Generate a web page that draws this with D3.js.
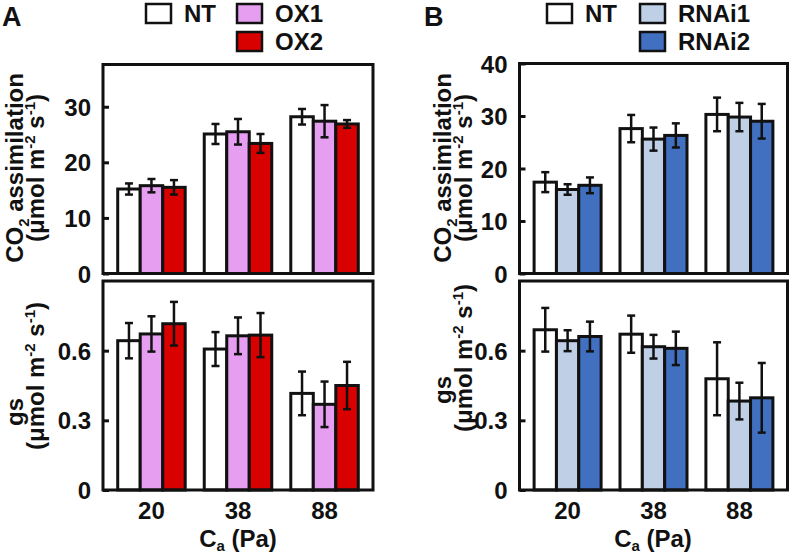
<!DOCTYPE html>
<html>
<head>
<meta charset="utf-8">
<script src="https://cdn.jsdelivr.net/npm/d3@7"></script>
<style>
  html, body { margin: 0; padding: 0; background: #fff; }
  svg text { font-family: "Liberation Sans", Arial, sans-serif; font-weight: bold; fill: #111; }
</style>
</head>
<body>
<svg id="chart" width="793" height="554"></svg>
<script>
// ---------- DATA ----------
const categories = ["20", "38", "88"];
const seriesA = ["NT", "OX1", "OX2"];
const seriesB = ["NT", "RNAi1", "RNAi2"];

// Panel A: CO2 assimilation (µmol m-2 s-1)
const A_assim_NT = [15.2, 25.1, 28.2];
const A_assim_NT_err = [1.0, 1.8, 1.4];
const A_assim_OX1 = [15.8, 25.5, 27.4];
const A_assim_OX1_err = [1.2, 2.3, 2.9];
const A_assim_OX2 = [15.5, 23.4, 26.9];
const A_assim_OX2_err = [1.3, 1.7, 0.7];
// Panel A: gs
const A_gs_NT = [0.643, 0.607, 0.416];
const A_gs_NT_err = [0.076, 0.073, 0.094];
const A_gs_OX1 = [0.672, 0.664, 0.369];
const A_gs_OX1_err = [0.076, 0.079, 0.098];
const A_gs_OX2 = [0.716, 0.667, 0.450];
const A_gs_OX2_err = [0.094, 0.095, 0.102];

// Panel B: CO2 assimilation
const B_assim_NT = [17.4, 27.6, 30.3];
const B_assim_NT_err = [1.9, 2.6, 3.2];
const B_assim_RNAi1 = [16.0, 25.6, 29.8];
const B_assim_RNAi1_err = [1.0, 2.2, 2.7];
const B_assim_RNAi2 = [16.8, 26.3, 29.0];
const B_assim_RNAi2_err = [1.5, 2.3, 3.3];
// Panel B: gs
const B_gs_NT = [0.690, 0.671, 0.479];
const B_gs_NT_err = [0.094, 0.080, 0.157];
const B_gs_RNAi1 = [0.643, 0.617, 0.383];
const B_gs_RNAi1_err = [0.045, 0.051, 0.079];
const B_gs_RNAi2 = [0.661, 0.610, 0.397];
const B_gs_RNAi2_err = [0.064, 0.072, 0.150];

const ticksAssimA = [0, 10, 20, 30];
const ticksAssimB = [0, 10, 20, 30, 40];
const ticksGs = [0, 0.3, 0.6];

// ---------- STYLE ----------
const colorsA = ["#ffffff", "#e59ef0", "#d90000"];
const colorsB = ["#ffffff", "#bfcfe6", "#4270c0"];

const svg = d3.select("#chart");
const LW = 3;

function panel(opt) {
  const g = svg.append("g");
  const x0 = d3.scaleBand().domain(categories).range([opt.left, opt.right])
    .paddingInner(0.22).paddingOuter(0.17);
  const x1 = d3.scaleBand().domain(opt.series).range([0, x0.bandwidth()]);
  const y = d3.scaleLinear().domain(opt.domain).range([opt.bottom, opt.top]);
  const color = d3.scaleOrdinal().domain(opt.series).range(opt.colors);

  const rows = [];
  opt.series.forEach((s, si) => {
    categories.forEach((c, ci) => {
      rows.push({ s, c, v: opt.values[si][ci], e: opt.errors[si][ci] });
    });
  });

  g.selectAll("rect.bar").data(rows).join("rect")
    .attr("class", "bar")
    .attr("x", d => x0(d.c) + x1(d.s))
    .attr("y", d => y(d.v))
    .attr("width", x1.bandwidth())
    .attr("height", d => y(0) - y(d.v))
    .attr("fill", d => color(d.s))
    .attr("stroke", "#111")
    .attr("stroke-width", LW);

  const eb = g.selectAll("g.err").data(rows).join("g").attr("class", "err")
    .attr("stroke", "#111").attr("stroke-width", 2.5);
  const cx = d => x0(d.c) + x1(d.s) + x1.bandwidth() / 2;
  eb.append("line").attr("x1", cx).attr("x2", cx)
    .attr("y1", d => y(d.v - d.e)).attr("y2", d => y(d.v + d.e));
  eb.append("line").attr("x1", d => cx(d) - 4).attr("x2", d => cx(d) + 4)
    .attr("y1", d => y(d.v + d.e)).attr("y2", d => y(d.v + d.e));
  eb.append("line").attr("x1", d => cx(d) - 4).attr("x2", d => cx(d) + 4)
    .attr("y1", d => y(d.v - d.e)).attr("y2", d => y(d.v - d.e));

  // frame
  g.append("rect")
    .attr("x", opt.left).attr("y", opt.top)
    .attr("width", opt.right - opt.left).attr("height", opt.bottom - opt.top)
    .attr("fill", "none").attr("stroke", "#111").attr("stroke-width", LW);

  // y axis (inward ticks)
  const ax = g.append("g").attr("transform", `translate(${opt.left},0)`)
    .call(d3.axisLeft(y).tickValues(opt.ticks).tickSize(-6).tickPadding(12)
      .tickFormat(d => d === 0 ? "0" : (opt.fmt ? d3.format(".1f")(d) : d)));
  ax.select(".domain").remove();
  ax.selectAll(".tick line").attr("stroke", "#111").attr("stroke-width", LW);
  ax.selectAll(".tick text").attr("font-size", 24).attr("dy", "0.36em")
    .style("font-family", "'Liberation Sans', Arial, sans-serif").style("font-weight", "bold").attr("fill", "#111");

  if (opt.xlabels) {
    const axx = g.append("g").attr("transform", `translate(0,${opt.bottom})`)
      .call(d3.axisBottom(x0).tickSize(0).tickPadding(12));
    axx.select(".domain").remove();
    axx.selectAll(".tick text").attr("font-size", 24)
      .style("font-family", "'Liberation Sans', Arial, sans-serif").style("font-weight", "bold").attr("fill", "#111");
  }
  return { x0, y };
}

function unitLine(t) {
  t.append("tspan").text("(μmol m");
  t.append("tspan").attr("font-size", 15).attr("dy", -9).text("-2");
  t.append("tspan").attr("dy", 9).text(" s");
  t.append("tspan").attr("font-size", 15).attr("dy", -9).text("-1");
  t.append("tspan").attr("dy", 9).text(")");
}

function yTitleAssim(x1, x2, cy) {
  const t1 = svg.append("text").attr("text-anchor", "middle").attr("font-size", 24)
    .attr("transform", `translate(${x1},${cy}) rotate(-90)`);
  t1.append("tspan").text("CO");
  t1.append("tspan").attr("font-size", 15).attr("dy", 6).text("2");
  t1.append("tspan").attr("dy", -6).text(" assimilation");
  const t2 = svg.append("text").attr("text-anchor", "middle").attr("font-size", 24)
    .attr("transform", `translate(${x2},${cy}) rotate(-90)`);
  unitLine(t2);
}
function yTitleGs(x1, x2, cy1, cy2) {
  svg.append("text").attr("text-anchor", "middle").attr("font-size", 24)
    .attr("transform", `translate(${x1},${cy1}) rotate(-90)`).text("gs");
  const t2 = svg.append("text").attr("text-anchor", "middle").attr("font-size", 24)
    .attr("transform", `translate(${x2},${cy2}) rotate(-90)`);
  unitLine(t2);
}
function xTitle(cx) {
  const t = svg.append("text").attr("text-anchor", "middle").attr("font-size", 24)
    .attr("x", cx).attr("y", 547);
  t.append("tspan").text("C");
  t.append("tspan").attr("font-size", 15).attr("dy", 4).text("a");
  t.append("tspan").attr("dy", -4).text(" (Pa)");
}
function legend(items, colors, positions) {
  items.forEach((s, i) => {
    const p = positions[i];
    svg.append("rect").attr("x", p[0]).attr("y", p[1]).attr("width", 25).attr("height", 19)
      .attr("fill", colors[i]).attr("stroke", "#111").attr("stroke-width", 2.5);
    svg.append("text").attr("x", p[0] + 38).attr("y", p[1] + 18).attr("font-size", 24).text(s);
  });
}

// Panel A
panel({ left: 103, right: 373, top: 64.5, bottom: 273.5, domain: [0, 37.6], ticks: ticksAssimA,
  series: seriesA, colors: colorsA,
  values: [A_assim_NT, A_assim_OX1, A_assim_OX2],
  errors: [A_assim_NT_err, A_assim_OX1_err, A_assim_OX2_err] });
panel({ left: 103, right: 373, top: 281, bottom: 490, domain: [0, 0.9], ticks: ticksGs, fmt: true,
  series: seriesA, colors: colorsA, xlabels: true,
  values: [A_gs_NT, A_gs_OX1, A_gs_OX2],
  errors: [A_gs_NT_err, A_gs_OX1_err, A_gs_OX2_err] });

// Panel B
panel({ left: 519.5, right: 787.5, top: 63.5, bottom: 273.5, domain: [0, 40], ticks: ticksAssimB,
  series: seriesB, colors: colorsB,
  values: [B_assim_NT, B_assim_RNAi1, B_assim_RNAi2],
  errors: [B_assim_NT_err, B_assim_RNAi1_err, B_assim_RNAi2_err] });
panel({ left: 519.5, right: 787.5, top: 281, bottom: 490, domain: [0, 0.9], ticks: ticksGs, fmt: true,
  series: seriesB, colors: colorsB, xlabels: true,
  values: [B_gs_NT, B_gs_RNAi1, B_gs_RNAi2],
  errors: [B_gs_NT_err, B_gs_RNAi1_err, B_gs_RNAi2_err] });

// Titles
yTitleAssim(23, 44, 168);
yTitleGs(23, 44, 412, 376);
yTitleAssim(451, 472, 168);
yTitleGs(451, 472, 390, 358);
xTitle(238);
xTitle(653);

// Panel letters
svg.append("text").attr("x", 2).attr("y", 26).attr("font-size", 27).text("A");
svg.append("text").attr("x", 424).attr("y", 26).attr("font-size", 27).text("B");

// Legends
legend(seriesA, colorsA, [[146, 4], [237, 4], [237, 32]]);
legend(seriesB, colorsB, [[547, 4], [640, 4], [640, 32]]);
</script>
</body>
</html>
